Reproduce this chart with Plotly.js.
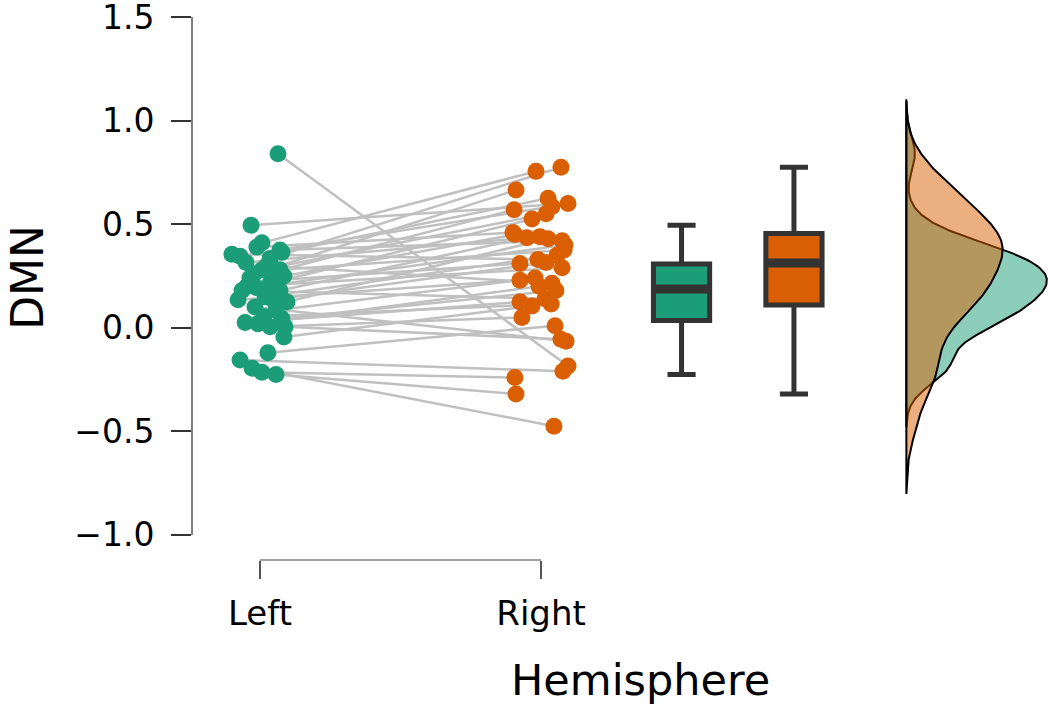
<!DOCTYPE html>
<html>
<head>
<meta charset="utf-8">
<script src="https://cdn.plot.ly/plotly-3.0.1.min.js"></script>
<style>html,body{margin:0;padding:0;background:#fff;}#chart{width:1048px;height:704px;}</style>
</head>
<body>
<div id="chart"></div>
<script>
// ---- data (one entry per subject, paired Left/Right) ----
var categories = ['Left', 'Right'];
var leftValues = [0.84, 0.495, 0.41, 0.39, 0.375, 0.365, 0.355, 0.345, 0.335, 0.315,
                  0.30, 0.28, 0.28, 0.26, 0.25, 0.24, 0.23, 0.215, 0.20, 0.195,
                  0.18, 0.18, 0.15, 0.135, 0.135, 0.125, 0.10, 0.085, 0.055, 0.045,
                  0.025, 0.02, 0.005, 0.005, -0.045, -0.12, -0.155, -0.195, -0.215, -0.225];
var rightValues = [-0.185, 0.60, 0.755, 0.46, 0.42, 0.625, 0.33, 0.585, 0.775, 0.44,
                   0.215, 0.55, 0.375, 0.665, 0.45, 0.57, 0.31, 0.525, 0.29, 0.40,
                   0.14, 0.435, 0.35, 0.23, 0.315, 0.43, -0.065, 0.24, 0.115, 0.18,
                   0.125, 0.20, -0.055, 0.05, 0.105, 0.01, -0.21, -0.475, -0.24, -0.32];
// jittered horizontal positions (Left = 1, Right = 2)
var leftX = [1.064, 0.968, 1.007, 0.989, 1.071, 1.078, 0.900, 0.929, 1.036, 0.950,
             1.025, 1.007, 1.071, 0.979, 1.085, 0.964, 1.053, 1.036, 0.954, 0.986,
             0.936, 1.071, 1.018, 0.922, 1.046, 1.096, 0.982, 1.057, 1.014, 1.078,
             0.947, 0.993, 1.089, 1.036, 1.085, 1.028, 0.929, 0.972, 1.007, 1.057];
var rightX = [2.096, 2.096, 1.982, 1.900, 2.075, 2.025, 1.989, 2.039, 2.071, 1.996,
              2.039, 2.018, 2.082, 1.911, 1.907, 1.904, 1.925, 1.968, 2.075, 2.085,
              2.014, 1.950, 2.057, 1.925, 2.018, 2.025, 2.089, 1.979, 2.036, 2.053,
              1.925, 1.993, 2.071, 1.932, 1.968, 2.050, 2.078, 2.046, 1.907, 1.911];
var yTicks = [-1.0, -0.5, 0.0, 0.5, 1.0, 1.5];

// ---- layout / style constants ----
var TEAL = '#1b9e77', ORANGE = '#d95f02', DARK = '#333333';
var boxPos = [2.5, 2.9], boxW = 0.2, densPos = 3.3, densMaxW = 0.5;

function sorted(a) { return a.slice().sort(function (p, q) { return p - q; }); }
function quantile7(s, p) { var h = (s.length - 1) * p, lo = Math.floor(h); return s[lo] + (h - lo) * ((s[lo + 1] === undefined ? s[lo] : s[lo + 1]) - s[lo]); }
function median(a) { return quantile7(sorted(a), 0.5); }
// Gaussian kernel density (bandwidth: Silverman's rule of thumb, as R's bw.nrd0)
function kde(a) {
  var s = sorted(a), n = s.length;
  var mean = s.reduce(function (t, v) { return t + v; }, 0) / n;
  var sd = Math.sqrt(s.reduce(function (t, v) { return t + (v - mean) * (v - mean); }, 0) / (n - 1));
  var iqr = quantile7(s, 0.75) - quantile7(s, 0.25);
  var bw = 0.9 * Math.min(sd, iqr / 1.34) * Math.pow(n, -0.2);
  var lo = s[0] - 3 * bw, hi = s[n - 1] + 3 * bw, steps = 256, ys = [], ds = [];
  for (var k = 0; k <= steps; k++) {
    var y = lo + (hi - lo) * k / steps, d = 0;
    for (var j = 0; j < n; j++) { var z = (y - s[j]) / bw; d += Math.exp(-0.5 * z * z); }
    ys.push(y); ds.push(d / (n * bw * Math.sqrt(2 * Math.PI)));
  }
  return {y: ys, d: ds};
}

// connecting lines
var lx = [], ly = [];
for (var i = 0; i < leftValues.length; i++) {
  lx.push(leftX[i], rightX[i], null);
  ly.push(leftValues[i], rightValues[i], null);
}

var traces = [
  {type: 'scatter', mode: 'lines', x: lx, y: ly, line: {color: '#c0c0c0', width: 2.5},
   hoverinfo: 'skip', showlegend: false, cliponaxis: false},
  {type: 'scatter', mode: 'markers', x: leftX, y: leftValues, name: categories[0],
   marker: {color: TEAL, size: 17, line: {width: 0}}, cliponaxis: false},
  {type: 'scatter', mode: 'markers', x: rightX, y: rightValues, name: categories[1],
   marker: {color: ORANGE, size: 17, line: {width: 0}}, cliponaxis: false}
];

[[leftValues, TEAL, categories[0], boxPos[0]], [rightValues, ORANGE, categories[1], boxPos[1]]].forEach(function (g) {
  traces.push({type: 'box', y: g[0], x0: g[3], name: g[2], width: boxW,
    fillcolor: g[1], line: {color: DARK, width: 5}, whiskerwidth: 0.5,
    boxpoints: 'outliers', marker: {opacity: 0, size: 1}, jitter: 0, pointpos: 0});
  var m = median(g[0]);
  traces.push({type: 'scatter', mode: 'lines', x: [g[3] - boxW / 2, g[3] + boxW / 2], y: [m, m],
    line: {color: DARK, width: 9}, hoverinfo: 'skip', showlegend: false});
});

// half-violin densities, both on one common density scale
var dens = [kde(leftValues), kde(rightValues)];
var peak = Math.max(Math.max.apply(null, dens[0].d), Math.max.apply(null, dens[1].d));
var scale = densMaxW / peak;
[[dens[0], 'rgba(27,158,119,0.5)', categories[0]], [dens[1], 'rgba(217,95,2,0.5)', categories[1]]].forEach(function (g) {
  var xs = [densPos], ys = [g[0].y[0]];
  for (var k = 0; k < g[0].y.length; k++) { xs.push(densPos + g[0].d[k] * scale); ys.push(g[0].y[k]); }
  xs.push(densPos, densPos); ys.push(g[0].y[g[0].y.length - 1], g[0].y[0]);
  traces.push({type: 'scatter', mode: 'lines', x: xs, y: ys, name: g[2], fill: 'toself',
    fillcolor: g[1], line: {color: '#000', width: 2, shape: 'linear'}, hoverinfo: 'skip', showlegend: false});
});

var layout = {
  width: 1048, height: 704,
  margin: {l: 192, r: 0, t: 10, b: 144},
  paper_bgcolor: '#fff', plot_bgcolor: '#fff',
  font: {family: 'DejaVu Sans, sans-serif', color: '#000'},
  showlegend: false,
  boxmode: 'overlay',
  xaxis: {range: [0.758, 3.804], tickvals: [1, 2], ticktext: categories,
    ticks: 'outside', ticklen: 18, tickwidth: 1.5, tickcolor: '#555',
    showline: false, zeroline: false, showgrid: false,
    tickfont: {size: 34, color: '#000'}, ticklabelstandoff: 5},
  yaxis: {range: [-1.121, 1.534], tickvals: yTicks, tickformat: '.1f',
    ticks: 'outside', ticklen: 20, tickwidth: 2, tickcolor: '#333',
    showline: false, zeroline: false, showgrid: false, ticklabeloverflow: 'allow',
    tickfont: {size: 33, color: '#000'}, ticklabelstandoff: 10},
  shapes: [
    {type: 'line', xref: 'paper', yref: 'y', x0: 0, x1: 0, y0: yTicks[0], y1: yTicks[yTicks.length - 1],
     line: {color: '#808080', width: 2}},
    {type: 'line', xref: 'x', yref: 'paper', x0: 1, x1: 2, y0: 0, y1: 0,
     line: {color: '#808080', width: 1.5}}
  ],
  annotations: [
    {text: 'DMN', xref: 'paper', yref: 'paper', x: -0.193, y: 0.5145, textangle: -90,
     showarrow: false, xanchor: 'center', yanchor: 'middle', font: {size: 44, color: '#000'}},
    {text: 'Hemisphere', xref: 'paper', yref: 'paper', x: 0.5234, y: -0.219,
     showarrow: false, xanchor: 'center', yanchor: 'middle', font: {size: 43, color: '#000'}}
  ]
};

Plotly.newPlot('chart', traces, layout, {displayModeBar: false, staticPlot: true});
</script>
</body>
</html>
